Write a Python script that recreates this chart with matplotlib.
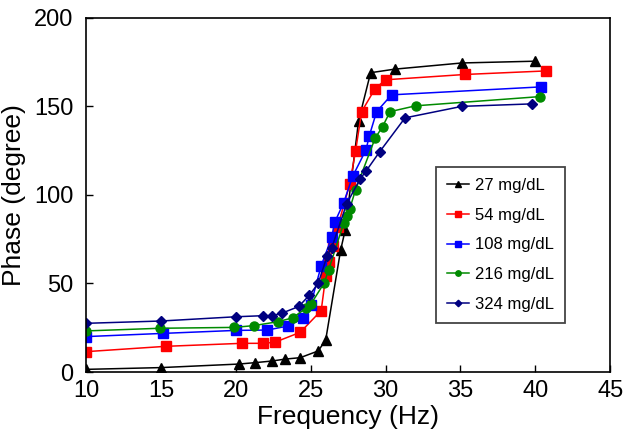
import matplotlib
matplotlib.use("Agg")
import matplotlib.pyplot as plt

plt.rcParams['font.family'] = ['Liberation Sans', 'DejaVu Sans']

# data
labels = ["27 mg/dL", "54 mg/dL", "108 mg/dL", "216 mg/dL", "324 mg/dL"]

f_27 = [10, 15, 20.2, 21.3, 22.4, 23.3, 24.3, 25.5, 26.0, 27.0, 27.3, 28.2, 29.0, 30.6, 35.1, 40.0]
p_27 = [1.5, 2.5, 4.5, 5.3, 6.2, 7.3, 8.1, 11.9, 18.1, 69, 80, 142, 169, 171, 174.5, 175.5]

f_54 = [10, 15.3, 20.4, 21.8, 22.6, 24.3, 25.7, 26.0, 26.2, 26.5, 26.8, 27.6, 28.0, 28.4, 29.3, 30.0, 35.3, 40.7]
p_54 = [11.5, 14.5, 16.2, 16.2, 16.8, 22.4, 34.7, 54, 62, 71, 82, 106, 125, 147, 160, 165, 168, 170]

f_108 = [10, 15.1, 20.0, 22.1, 23.5, 24.5, 25.0, 25.7, 26.4, 26.6, 27.2, 27.8, 28.7, 28.9, 29.4, 30.4, 40.4]
p_108 = [20, 21.8, 23.5, 23.7, 26, 30.5, 38, 60, 76, 84.5, 95.6, 110.5, 125.6, 133, 147, 156.5, 161]

f_216 = [10, 14.9, 19.9, 21.2, 22.8, 23.8, 24.7, 25.0, 25.9, 26.2, 27.2, 27.4, 27.6, 28.0, 29.3, 29.8, 30.3, 32.0, 40.3]
p_216 = [23.2, 24.7, 25.2, 26.2, 28.4, 30.6, 36.2, 38.2, 50.3, 57.8, 84, 88, 92, 103, 132, 138.6, 147, 150.3, 155.5]

f_324 = [10, 15.0, 20.0, 21.8, 22.4, 23.1, 24.2, 24.9, 25.5, 26.1, 26.4, 27.4, 28.3, 28.7, 29.6, 31.3, 35.1, 39.8]
p_324 = [27.5, 28.8, 31.2, 31.8, 31.8, 33.3, 37, 43.3, 50, 65.7, 70, 95, 109, 113.5, 124.3, 143.5, 150, 151.4]

series = [(f_27, p_27), (f_54, p_54), (f_108, p_108), (f_216, p_216), (f_324, p_324)]
colors = ["black", "#ff0000", "#0000ff", "#008a00", "#000080"]
markers = ["^", "s", "s", "o", "D"]
msizes = [7, 6.5, 6.5, 6.5, 5.5]

fig = plt.figure(figsize=(6.29, 4.45), dpi=100)
ax = fig.add_axes([0.137, 0.164, 0.833, 0.796])

for (f, p), c, m, ms, lab in zip(series, colors, markers, msizes, labels):
    ax.plot(f, p, color=c, marker=m, markersize=ms, linewidth=1.1, label=lab)

ax.set_xlim(10, 45)
ax.set_ylim(0, 200)
ax.set_xticks(range(10, 46, 5))
ax.set_yticks(range(0, 201, 50))
ax.tick_params(direction='in', length=5, labelsize=17, width=1)
ax.tick_params(axis='x', pad=6)
ax.tick_params(axis='y', pad=9)
for s in ax.spines.values():
    s.set_linewidth(1.2)

ax.set_xlabel("Frequency (Hz)", fontsize=19, labelpad=2)
ax.set_ylabel("Phase (degree)", fontsize=19, labelpad=6)

# legend box sits inside the plot, right of the transition
leg = ax.legend(loc='upper left', bbox_to_anchor=(0.668, 0.578), fontsize=12,
                markerscale=0.6, handlelength=1.3, handletextpad=0.4,
                labelspacing=0.88, borderpad=0.65, borderaxespad=0,
                fancybox=False, framealpha=1)
leg.get_frame().set_edgecolor('#444444')
leg.get_frame().set_linewidth(1.3)

fig.savefig("out.png", dpi=100)
